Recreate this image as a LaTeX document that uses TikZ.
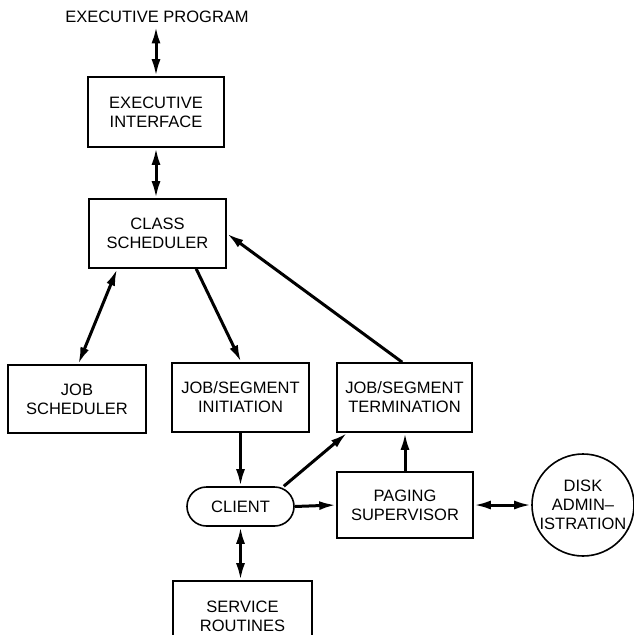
\documentclass[tikz,border=0pt]{standalone}
\usepackage{fontspec}
\setmainfont{Liberation Sans}
\usetikzlibrary{arrows.meta}
\begin{document}
\begin{tikzpicture}[x=1pt,y=-1pt,
    font=\fontsize{16.5}{19}\selectfont,
    blk/.style={draw,line width=1.6pt,align=center,inner sep=0pt},
    link/.style={line width=3pt,-{Latex[length=17pt,width=9pt]}},
    both/.style={line width=3pt,{Latex[length=17pt,width=9pt]}-{Latex[length=17pt,width=9pt]}}]
    \clip (0,0) rectangle (634,635);
    \node (prog) at (157,17) {EXECUTIVE PROGRAM};
    \node[blk,minimum width=136pt,minimum height=70pt] (ei) at (156,112) {EXECUTIVE\\INTERFACE};
    \node[blk,minimum width=137pt,minimum height=69pt] (cs) at (157.5,233.5) {CLASS\\SCHEDULER};
    \node[blk,minimum width=138pt,minimum height=68pt] (js) at (77,399) {JOB\\SCHEDULER};
    \node[blk,minimum width=137pt,minimum height=69pt] (ini) at (240.5,397.5) {JOB/SEGMENT\\INITIATION};
    \node[blk,minimum width=135pt,minimum height=69pt] (term) at (404.5,397.5) {JOB/SEGMENT\\TERMINATION};
    \node[blk,minimum width=107pt,minimum height=39pt,rounded corners=19.5pt] (cl) at (240.5,506.5) {CLIENT};
    \node[blk,minimum width=136pt,minimum height=66pt] (ps) at (405,505) {PAGING\\SUPERVISOR};
    \node[blk,circle,minimum size=102pt] (disk) at (583,505) {DISK\\ADMIN--\\ISTRATION};
    \node[blk,minimum width=139pt,minimum height=70pt] (sr) at (242.5,616) {SERVICE\\ROUTINES};
    % connectors
    \draw[both] (ei.north |- prog.south) -- (ei.north);
    \draw[both] (ei.south) -- (ei.south |- cs.north);
    \draw[both] ([xshift=29pt]cs.south west) -- ([xshift=71pt]js.north west);
    \draw[link] ([xshift=108pt]cs.south west) -- ([xshift=70pt]ini.north west);
    \draw[link] ([xshift=66pt]term.north west) -- (cs.east);
    \draw[link] (ini.south) -- (cl.north);
    \draw[link] ([xshift=-11pt]cl.north east) -- ([xshift=11pt]term.south west);
    \draw[link] (cl.east) -- (ps.west);
    \draw[link] (ps.north) -- (ps.north |- term.south);
    \draw[both] (ps.east) -- (disk.west);
    \draw[both] (cl.south) -- (cl.south |- sr.north);
\end{tikzpicture}
\end{document}
